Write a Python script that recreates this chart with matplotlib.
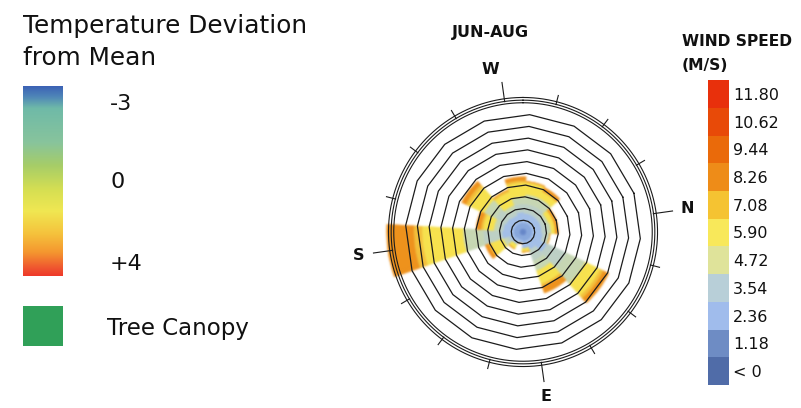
import numpy as np
import matplotlib
matplotlib.use("Agg")
import matplotlib.pyplot as plt
from matplotlib.colors import LinearSegmentedColormap, ListedColormap
from matplotlib.patches import Rectangle

# ---------------- data ----------------
directions = ['N', 'NNE', 'NE', 'ENE', 'E', 'ESE', 'SE', 'SSE',
              'S', 'SSW', 'SW', 'WSW', 'W', 'WNW', 'NW', 'NNW']
bearings = [0, 22.5, 45, 67.5, 90, 112.5, 135, 157.5,
            180, 202.5, 225, 247.5, 270, 292.5, 315, 337.5]

# radial length of each speed class per direction (same order as directions)
freq_lt0  = [.3, .3, .3, .3, .3, .3, .3, .3, .3, .3, .3, .3, .3, .3, .3, .3]
freq_1_18 = [.5, .5, .5, .5, .5, .4, .4, .5, .5, .5, .5, .5, .5, .5, .5, .5]
freq_2_36 = [.8, .9, 1.5, .8, .6, .3, .5, .4, 1.0, .9, .8, .7, .9, .8, .8, .8]
freq_3_54 = [.5, .4, 1.8, 1.0, 0, 0, 0, .3, 1.6, .4, 1.0, .5, .7, .8, .8, .4]
freq_4_72 = [.3, .2, 1.8, .9, 0, 0, 0, .3, 1.7, .4, 1.1, .4, .6, .8, .8, .3]
freq_5_90 = [.3, 0, 1.4, 1.2, .3, 0, .4, 1.1, 3.5, .9, 1.4, 1.2, 1.2, 1.0, .6, .4]
freq_7_08 = [.1, 0, .3, .2, 0, 0, 0, .2, .7, .2, .3, .2, .2, .1, .1, .1]
freq_8_26 = [.2, 0, .5, .6, 0, 0, 0, .3, 2.3, .4, .4, 0, .3, 0, .3, .2]

speed_labels = ['< 0', '1.18', '2.36', '3.54', '4.72', '5.90',
                '7.08', '8.26', '9.44', '10.62', '11.80']
cardinals = ['W', 'N', 'E', 'S']
temp_labels = ['-3', '0', '+4']
canopy_label = 'Tree Canopy'
season = 'JUN-AUG'

# ---------------- styles ----------------
W, H = 801, 408
CX, CY = 523, 232          # rose centre in pixels
UNIT = 11.75               # pixels per ring
RMAX = 13.0
ROT = 82                   # rotation of the compass (deg)

cb_colors = ['#506ca8', '#6e8cc4', '#a0bcec', '#b8cfd8', '#dfe39a', '#f8e85a',
             '#f5c332', '#ee8c18', '#ea6a0a', '#e84a08', '#e8300c']
rose_colors = ['#6586c8', '#86a6dc', '#a3bfe8', '#bdd0c6', '#c7d7b3',
               '#f7e24e', '#f3c03a', '#ee921c']

plt.rcParams['font.family'] = ['DejaVu Sans']
fig = plt.figure(figsize=(W / 100, H / 100), dpi=100)


def fx(px):
    return px / W


def fy(py):
    return 1 - py / H


# --- blur filter for the rose bars ---
def gauss_blur(img, dpi, sigma=1.0, pad=4):
    src = np.pad(img, [(pad, pad), (pad, pad), (0, 0)], 'constant')
    a = src[..., 3:4]
    pm = np.concatenate([src[..., :3] * a, a], axis=2)
    x = np.arange(-pad, pad + 1)
    k = np.exp(-0.5 * (x / sigma) ** 2)
    k /= k.sum()
    for axis in (0, 1):
        pm = np.apply_along_axis(lambda m: np.convolve(m, k, mode='same'), axis, pm)
    alpha = np.clip(pm[..., 3:4], 0, 1)
    rgb = np.where(alpha > 1e-4, pm[..., :3] / np.maximum(alpha, 1e-4), 0)
    out = np.concatenate([np.clip(rgb, 0, 1), alpha], axis=2)
    return out, -pad, -pad


half = RMAX * UNIT
rect = [fx(CX - half), fy(CY + half), 2 * half / W, 2 * half / H]
ax_b = fig.add_axes(rect, projection='polar', zorder=1)
ax_g = fig.add_axes(rect, projection='polar', zorder=2)
for a in (ax_b, ax_g):
    a.set_theta_zero_location('N')
    a.set_theta_direction(-1)
    a.set_ylim(0, RMAX)
    a.set_axis_off()

theta = np.radians(np.array(bearings) + ROT)
width = np.radians(22.5)
series = [freq_lt0, freq_1_18, freq_2_36, freq_3_54, freq_4_72,
          freq_5_90, freq_7_08, freq_8_26]
bottom = np.zeros(len(directions))
for vals, col in zip(series, rose_colors):
    vals = np.array(vals, dtype=float)
    ax_b.bar(theta, vals, width=width, bottom=bottom, color=col,
             edgecolor=col, linewidth=0.4, align='center')
    bottom = bottom + vals
ax_b.set_agg_filter(gauss_blur)

# --- grid (16-gon rings, outer circles, ticks) ---
edges = np.radians(np.array(bearings) - 11.25 + ROT)
edges = np.append(edges, edges[0])
for k in range(1, 11):
    ax_g.plot(edges, np.full(edges.size, k), color='#1c1c1c', lw=0.9)
tt = np.linspace(0, 2 * np.pi, 500)
for r in (11.0, 11.22, 11.45):
    ax_g.plot(tt, np.full(tt.size, r), color='#1c1c1c', lw=0.8)
for b, th in zip(bearings, theta):
    r_end = 12.85 if b % 90 == 0 else 12.0
    ax_g.plot([th, th], [11.2, r_end], color='#1c1c1c', lw=0.8)

card_bearing = {'W': 270, 'N': 0, 'E': 90, 'S': 180}
card_nudge = {'W': -3.5, 'N': 0, 'E': 0, 'S': 0}
for c in cardinals:
    th = np.radians(card_bearing[c] + ROT + card_nudge[c])
    ax_g.text(th, 14.1, c, ha='center', va='center', fontsize=11.5,
              fontweight='bold', color='#111111')

fig.text(fx(490), fy(33), season, ha='center', va='center', fontsize=11.5,
         fontweight='bold', color='#111111')

# --- wind speed colour bar ---
ax_cb = fig.add_axes([fx(708), fy(385), 21 / W, 305 / H])
ax_cb.imshow(np.arange(len(speed_labels))[:, None], cmap=ListedColormap(cb_colors),
             origin='lower', aspect='auto', extent=[0, 1, 0, len(speed_labels)],
             interpolation='nearest')
ax_cb.set_xticks([])
ax_cb.set_yticks(np.arange(len(speed_labels)) + 0.5)
ax_cb.set_yticklabels(speed_labels, fontsize=11.5, color='#111111')
ax_cb.yaxis.tick_right()
ax_cb.tick_params(axis='y', length=0, pad=3)
for s in ax_cb.spines.values():
    s.set_visible(False)
fig.text(fx(682), fy(46.5), 'WIND SPEED', ha='left', va='baseline', fontsize=11.2,
         fontweight='bold', color='#111111')
fig.text(fx(682), fy(70), '(M/S)', ha='left', va='baseline', fontsize=11.2,
         fontweight='bold', color='#111111')

# --- temperature legend ---
temp_cmap = LinearSegmentedColormap.from_list('temp', [
    (0.00, '#3a5fb5'), (0.06, '#4f86b8'), (0.12, '#6fbaa8'), (0.30, '#88c49c'),
    (0.42, '#a6cd68'), (0.55, '#d6df52'), (0.66, '#f0e752'), (0.78, '#f5c23c'),
    (0.88, '#f4952f'), (0.96, '#ef5530'), (1.00, '#ee3a2a')])
ax_t = fig.add_axes([fx(23), fy(276), 40 / W, 190 / H])
ax_t.imshow(np.linspace(0, 1, 256)[:, None], cmap=temp_cmap, aspect='auto',
            origin='upper', extent=[0, 1, 0, 1])
ax_t.set_axis_off()

fig.text(fx(23), fy(33), 'Temperature Deviation', ha='left', va='baseline',
         fontsize=17.8, color='#111111')
fig.text(fx(23), fy(65), 'from Mean', ha='left', va='baseline',
         fontsize=17.8, color='#111111')
for lab, py in zip(temp_labels, [110, 188, 270]):
    fig.text(fx(110), fy(py), lab, ha='left', va='baseline', fontsize=16,
             color='#111111')

fig.add_artist(Rectangle((fx(23), fy(346)), 40 / W, 40 / H,
                         transform=fig.transFigure, color='#30a058', lw=0))
fig.text(fx(107), fy(335), canopy_label, ha='left', va='baseline',
         fontsize=16.5, color='#111111')

fig.savefig('out.png', dpi=100)
